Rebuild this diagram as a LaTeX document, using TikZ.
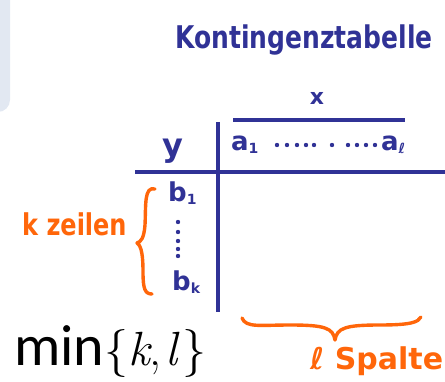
\documentclass[tikz,border=0pt]{standalone}
\usepackage{fontspec}
\newfontfamily\hand{DejaVu Sans}
\newfontfamily\minfont{Carlito}
\definecolor{ink}{RGB}{48,50,150}
\definecolor{orng}{RGB}{255,102,10}
\definecolor{panelc}{RGB}{226,232,242}
\newcommand{\lowsub}[1]{{\fontsize{14}{14}\selectfont\raisebox{-0.35ex}{#1}}}
\newcommand{\fsz}[1]{\fontsize{#1}{#1}\selectfont}
\tikzset{
  hw/.style={font=\hand\bfseries, inner sep=0pt},
  inkline/.style={draw=ink, line width=3.6pt},
  bracepath/.style={draw=orng, line width=3.4pt, line cap=round, line join=round},
  dotmark/.style={fill=ink}
}
\begin{document}
\begin{tikzpicture}[x=1pt,y=-1pt]
\useasboundingbox (0,0) rectangle (445,382);
\clip (0,0) rectangle (445,382);
% panel
\fill[panelc, rounded corners=12pt] (-30,-30) rectangle (10,112);
% title
\node[hw, ink, yscale=1.25] (title) at (304,40) {\fsz{25}Kontingenztabelle};
% x label and top line
\node[hw, ink] (xlab) at (317,98) {\fsz{22}x};
\coordinate (t1) at (233,120);
\coordinate (t2) at (405,120);
\draw[inkline] (t1) -- (t2);
% table rules
\coordinate (v1) at (218,122);
\coordinate (v2) at (218,312);
\draw[inkline] (v1) -- (v2);
\coordinate (h1) at (135,172);
\coordinate (h2) at (450,172);
\draw[inkline] (h1) -- (h2);
% y label
\node[hw, ink, anchor=base] (ylab) at (173,157) {\fsz{32}y};
% column labels
\node[hw, ink, anchor=base west] (a1) at (231,151) {\fsz{26}a\lowsub{1}};
\foreach \px in {277,287,297,306,314,332,348,357,366,375}
  \fill[dotmark] (\px,145) circle (2.2pt);
\node[hw, ink, anchor=base west] (al) at (381,151) {\fsz{26}a\lowsub{ℓ}};
% row labels
\node[hw, ink, anchor=base west] (b1) at (168,202) {\fsz{26}b\lowsub{1}};
\foreach \py in {222,232,241,249,256}
  \fill[dotmark] (178,\py) circle (2.2pt);
\node[hw, ink, anchor=base west] (bk) at (172,291) {\fsz{26}b\lowsub{k}};
% left brace
\draw[bracepath] (155,189) .. controls (144,186) and (146,205) .. (145,225)
  .. controls (144,238) and (141,242) .. (137,243)
  .. controls (142,246) and (143,258) .. (143,272)
  .. controls (143,289) and (145,294) .. (152,294);
\node[hw, orng, anchor=base west, yscale=1.25] (kz) at (22,236) {\fsz{24}k zeilen};
% bottom brace
\draw[bracepath] (242,318) .. controls (246,328) and (260,325) .. (290,325)
  .. controls (325,325) and (333,328) .. (335,340)
  .. controls (337,328) and (345,325) .. (380,325)
  .. controls (412,325) and (418,322) .. (421,317);
\node[hw, orng, anchor=base west] (ls) at (310,370) {\fsz{30}ℓ Spalten};
% min{k,l}
\node[anchor=base west, inner sep=0pt] (minkl) at (14,366)
  {\fsz{58}\minfont min\rmfamily\fsz{48}\{\textit{k},\kern4pt\textit{l}\kern2pt\}};
\end{tikzpicture}
\end{document}
